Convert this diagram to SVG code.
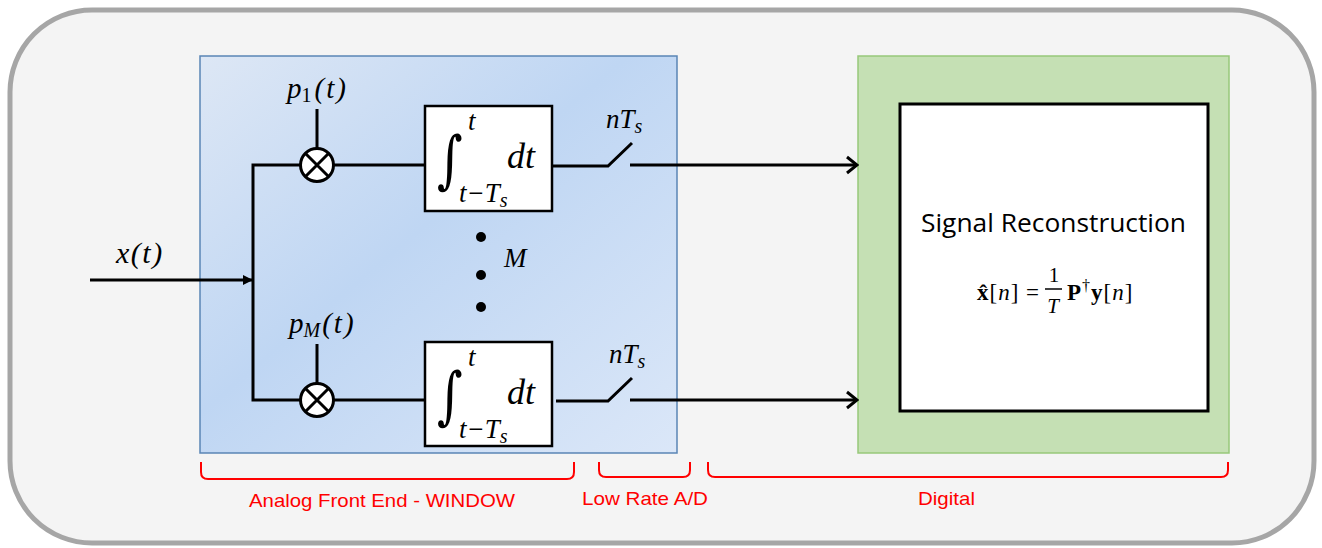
<svg xmlns="http://www.w3.org/2000/svg" width="1322" height="548" viewBox="0 0 1322 548">
<defs>
  <linearGradient id="blueGrad" x1="0" y1="0" x2="1" y2="1">
    <stop offset="0" stop-color="#dde7f5"/>
    <stop offset="0.45" stop-color="#bfd6f3"/>
    <stop offset="1" stop-color="#dbe7f8"/>
  </linearGradient>
  <marker id="tri" viewBox="0 0 10 10" refX="10" refY="5" markerWidth="10" markerHeight="10" markerUnits="userSpaceOnUse" orient="auto">
    <path d="M0,0 L10,5 L0,10 z" fill="#000"/>
  </marker>
  <marker id="chev" viewBox="0 0 14 20" refX="12" refY="10" markerWidth="14" markerHeight="20" markerUnits="userSpaceOnUse" orient="auto">
    <path d="M2,2 L12,10 L2,18" fill="none" stroke="#000" stroke-width="3"/>
  </marker>
</defs>
<style>
  .ln { stroke:#000; stroke-width:3; fill:none; }
  .box { fill:#fff; stroke:#000; stroke-width:2.5; }
  .math { font-family:"Liberation Serif","DejaVu Serif",serif; font-style:italic; fill:#000; }
  .int { font-family:"DejaVu Serif",serif; font-style:normal; fill:#000; }
  .brk { stroke:#ff0000; stroke-width:2; fill:none; }
  .lbl { font-family:"Liberation Sans","Open Sans",sans-serif; font-size:19px; fill:#ff0000; }
</style>

<rect x="10" y="10" width="1304" height="533" rx="82" ry="82" fill="#f4f4f4" stroke="#a6a6a6" stroke-width="5"/>

<g id="analog-front-end">
  <rect x="200" y="56" width="477" height="397" fill="url(#blueGrad)" stroke="#5a85b5" stroke-width="1.5"/>
</g>

<g id="digital">
  <rect x="858" y="56" width="371" height="397" fill="#c5e0b4" stroke="#97c87a" stroke-width="1.5"/>
</g>

<g id="connectors">
  <line class="ln" x1="90" y1="280" x2="253" y2="280" marker-end="url(#tri)"/>
  <polyline class="ln" points="300,165 253,165 253,400 300,400"/>
  <line class="ln" x1="334" y1="165" x2="425" y2="165"/>
  <line class="ln" x1="334" y1="400" x2="425" y2="400"/>
  <line class="ln" x1="317" y1="109" x2="317" y2="148"/>
  <line class="ln" x1="317" y1="344" x2="317" y2="383"/>
  <polyline class="ln" points="552,166 608,166 632,143"/>
  <polyline class="ln" points="556,401 608,401 632,378"/>
  <line class="ln" x1="630" y1="165" x2="857" y2="165" marker-end="url(#chev)"/>
  <line class="ln" x1="630" y1="400" x2="857" y2="400" marker-end="url(#chev)"/>
</g>

<g id="input-label">
  <text class="math" x="116" y="263" font-size="30" letter-spacing="1.5">x(t)</text>
</g>

<g id="multiplier-1">
  <circle cx="317" cy="165" r="16.5" fill="#fff" stroke="#000" stroke-width="3"/>
  <path class="ln" d="M305.5,153.5 L328.5,176.5 M328.5,153.5 L305.5,176.5" stroke-width="2.5"/>
  <text class="math" x="287" y="98" font-size="29">p<tspan font-size="20" dy="4" font-style="normal">1</tspan><tspan dy="-4" dx="3" letter-spacing="2">(t)</tspan></text>
</g>

<g id="multiplier-M">
  <circle cx="317" cy="400" r="16.5" fill="#fff" stroke="#000" stroke-width="3"/>
  <path class="ln" d="M305.5,388.5 L328.5,411.5 M328.5,388.5 L305.5,411.5" stroke-width="2.5"/>
  <text class="math" x="289" y="333" font-size="29">p<tspan font-size="20" dy="4">M</tspan><tspan dy="-4" dx="2" letter-spacing="2">(t)</tspan></text>
</g>

<g id="integrator-1">
  <rect class="box" x="425" y="106" width="127" height="105"/>
  <text class="int" transform="translate(437,181) scale(0.75,0.95)" font-size="66">∫</text>
  <text class="math" x="468" y="130" font-size="27">t</text>
  <text class="math" x="459" y="202" font-size="27">t−T<tspan font-size="20" dy="5">s</tspan></text>
  <text class="math" x="507" y="168" font-size="36">dt</text>
</g>

<g id="integrator-M">
  <rect class="box" x="425" y="342" width="127" height="104"/>
  <text class="int" transform="translate(437,417) scale(0.75,0.95)" font-size="66">∫</text>
  <text class="math" x="468" y="366" font-size="27">t</text>
  <text class="math" x="459" y="438" font-size="27">t−T<tspan font-size="20" dy="5">s</tspan></text>
  <text class="math" x="507" y="404" font-size="36">dt</text>
</g>

<g id="ellipsis">
  <circle cx="481" cy="237" r="5" fill="#000"/>
  <circle cx="481" cy="275" r="5" fill="#000"/>
  <circle cx="481" cy="307" r="5" fill="#000"/>
  <text class="math" x="504" y="267" font-size="27">M</text>
</g>

<g id="sampler-1">
  <text class="math" x="606" y="128" font-size="27">nT<tspan font-size="20" dy="5">s</tspan></text>
</g>
<g id="sampler-M">
  <text class="math" x="609" y="363" font-size="27">nT<tspan font-size="20" dy="5">s</tspan></text>
</g>

<g id="signal-reconstruction">
  <rect x="900" y="104" width="308" height="307" fill="#fff" stroke="#000" stroke-width="3"/>
  <text x="921" y="232" font-family="Open Sans, Liberation Sans, sans-serif" font-size="26" textLength="265" lengthAdjust="spacingAndGlyphs" fill="#000">Signal Reconstruction</text>
  <text x="977" y="300" font-family="Liberation Serif, DejaVu Serif, serif" font-size="23" fill="#000" letter-spacing="1"><tspan font-weight="bold">x̂</tspan>[<tspan font-style="italic">n</tspan>] =</text>
  <text x="1054" y="282" font-family="Liberation Serif, serif" font-size="21" text-anchor="middle" fill="#000">1</text>
  <line x1="1045" y1="289" x2="1062" y2="289" stroke="#000" stroke-width="1.5"/>
  <text x="1053" y="313" font-family="Liberation Serif, serif" font-size="21" font-style="italic" text-anchor="middle" fill="#000">T</text>
  <text x="1067" y="300" font-family="Liberation Serif, DejaVu Serif, serif" font-size="23" fill="#000" letter-spacing="1"><tspan font-weight="bold">P</tspan><tspan font-size="16" dy="-9">†</tspan><tspan font-weight="bold" dy="9">y</tspan>[<tspan font-style="italic">n</tspan>]</text>
</g>

<g id="brackets">
  <path class="brk" d="M201,462 L201,472 Q201,479 208,479 L567,479 Q574,479 574,472 L574,462"/>
  <path class="brk" d="M599,462 L599,470 Q599,477 606,477 L683,477 Q690,477 690,470 L690,462"/>
  <path class="brk" d="M708,462 L708,470 Q708,477 715,477 L1221,477 Q1228,477 1228,470 L1228,462"/>
  <text class="lbl" x="249" y="507" textLength="266" lengthAdjust="spacingAndGlyphs">Analog Front End - WINDOW</text>
  <text class="lbl" x="582" y="505" textLength="126" lengthAdjust="spacingAndGlyphs">Low Rate A/D</text>
  <text class="lbl" x="918" y="505" textLength="57" lengthAdjust="spacingAndGlyphs">Digital</text>
</g>
</svg>
